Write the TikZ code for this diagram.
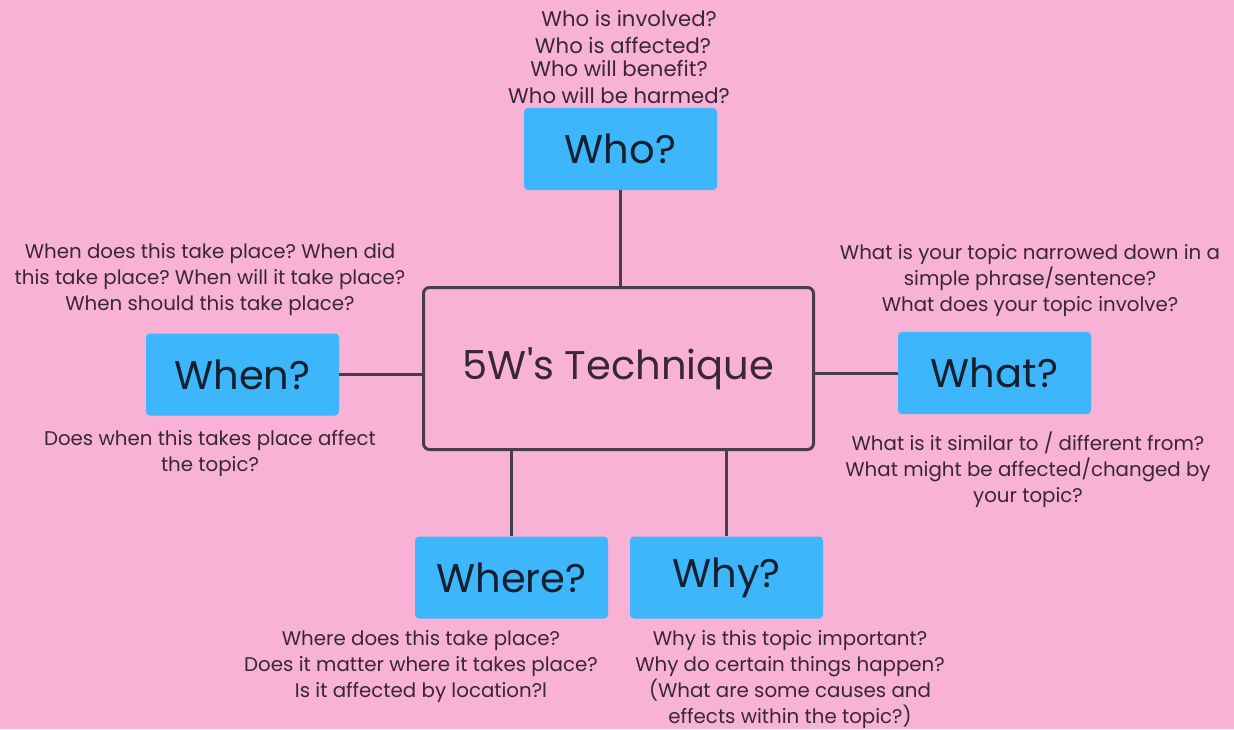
\documentclass[tikz,border=0pt]{standalone}
\usepackage{fontspec}
\setmainfont{Poppins}
\frenchspacing
\definecolor{bg}{HTML}{F8B2D5}
\definecolor{boxblue}{HTML}{3DB6FC}
\definecolor{linecol}{HTML}{4A3D4A}
\definecolor{notetext}{HTML}{3A2634}
\definecolor{labeltext}{HTML}{14202E}
\begin{document}
\begin{tikzpicture}[x=0.5pt,y=-0.5pt,
  qbox/.style={fill=boxblue, rounded corners=2pt, minimum width=96.5pt, minimum height=41pt, inner sep=0pt, font=\fontsize{20}{20}\selectfont, text=labeltext},
  mainbox/.style={draw=linecol, line width=1.5pt, rounded corners=3pt, minimum width=195pt, minimum height=81pt, inner sep=0pt, font=\fontsize{20}{20}\selectfont, text=notetext},
  note/.style={font=\fontsize{9.9}{13}\selectfont, text=notetext, align=center, inner sep=0pt},
  whonote/.style={note, font=\fontsize{10.6}{13}\selectfont},
  conn/.style={draw=linecol, line width=1.5pt}]
\useasboundingbox (0,0) rectangle (1234,729);
\fill[bg] (0,0) rectangle (1234,729);

\node[mainbox] (c) at (618.5,368.5) {5W\textquotesingle s Technique};
\node[qbox] (who) at (620.5,149) {Who?};
\node[qbox] (when) at (242.5,374.5) {When?};
\node[qbox] (what) at (994.5,373) {What?};
\node[qbox] (where) at (511.5,577.5) {Where?};
\node[qbox] (why) at (726.5,577.5) {Why?};

\draw[conn] (who.south) -- (who.south |- c.north);
\draw[conn] (when.east) -- (when.east -| c.west);
\draw[conn] (what.west -| c.east) -- (what.west);
\draw[conn] (where.north |- c.south) -- (where.north);
\draw[conn] (why.north |- c.south) -- (why.north);

\node[whonote] (w1) at (629,19) {Who is involved?};
\node[whonote] (w2) at (623,45) {Who is affected?};
\node[whonote] (w3) at (619,68) {Who will benefit?};
\node[whonote] (w4) at (619,96) {Who will be harmed?};

\node[note] (whenA) at (210,280) {When does this take place? When did\\this take place? When will it take place?\\When should this take place?};
\node[note] (whenB) at (210,453) {Does when this takes place affect\\the topic?};

\node[note] (whatA) at (1030,281) {What is your topic narrowed down in a\\simple phrase/sentence?\\What does your topic involve?};
\node[note] (whatB) at (1028,470) {What is it similar to / different from?\\What might be affected/changed by\\your topic?};

\node[note] (whereA) at (421,667) {Where does this take place?\\Does it matter where it takes place?\\Is it affected by location?l};
\node[note] (whyA) at (790,680) {Why is this topic important?\\Why do certain things happen?\\(What are some causes and\\effects within the topic?)};
\end{tikzpicture}
\end{document}
